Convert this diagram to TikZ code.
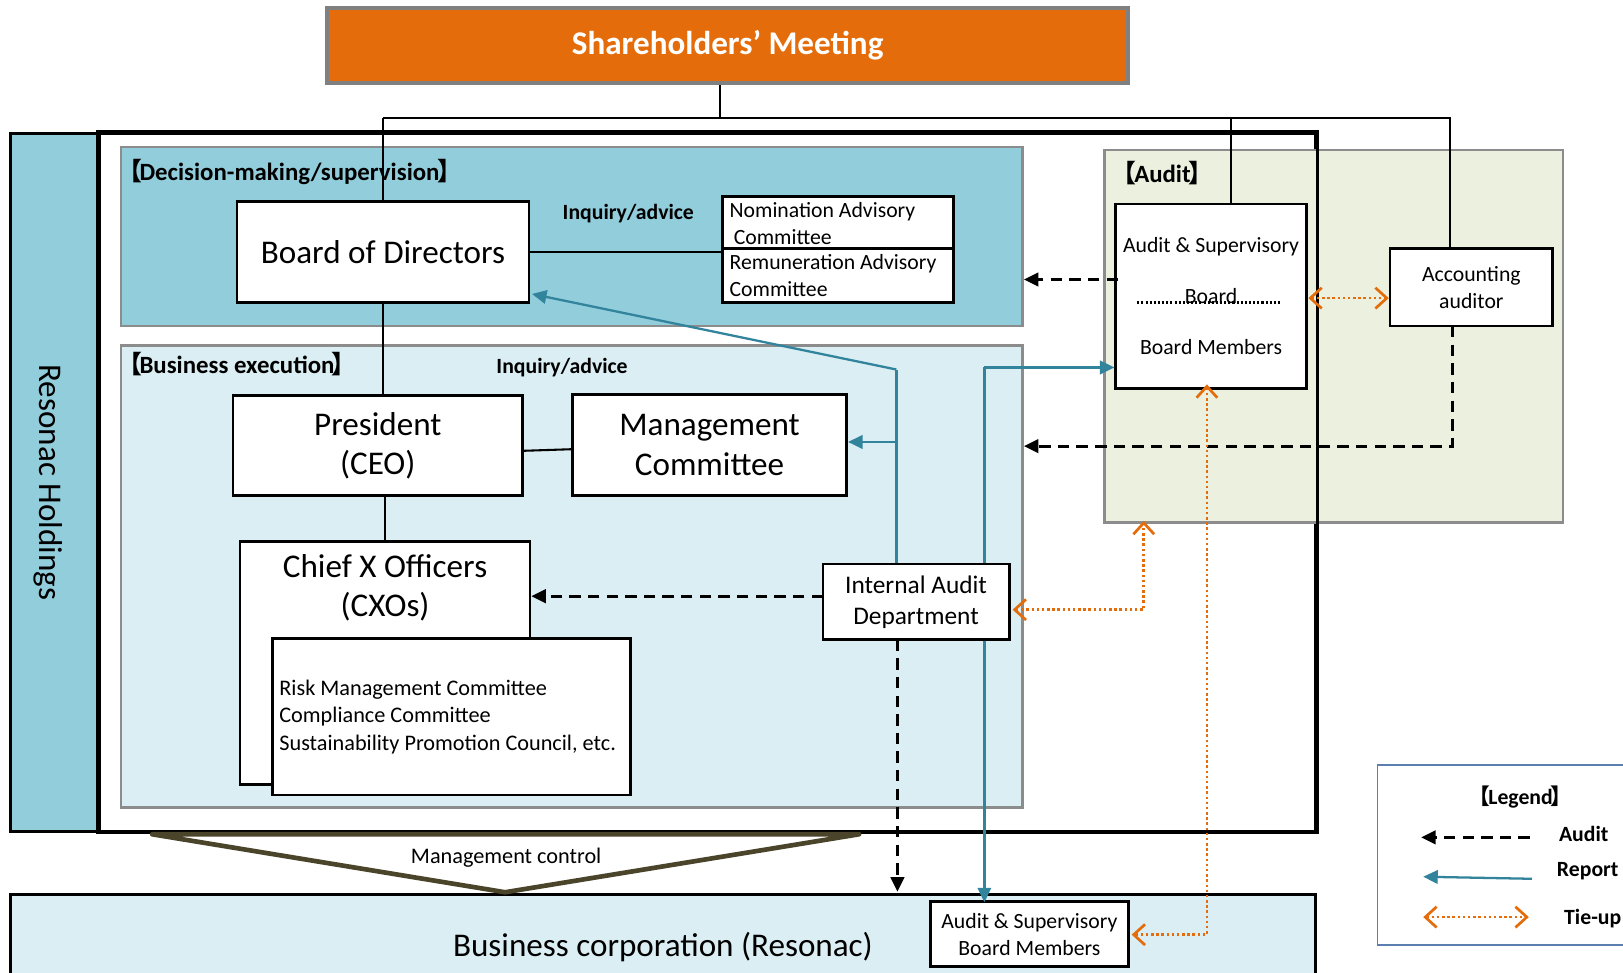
\documentclass[tikz,border=0pt]{standalone}
\usepackage{fontspec}
\setmainfont{Carlito}
\newfontfamily\cjk{Noto Sans CJK SC}
\usetikzlibrary{arrows.meta,calc}
\definecolor{smorange}{HTML}{E46C0A}
\definecolor{smborder}{HTML}{808080}
\definecolor{decblue}{HTML}{92CDDC}
\definecolor{busblue}{HTML}{DAEEF3}
\definecolor{auditgreen}{HTML}{EBF1DE}
\definecolor{panelgray}{HTML}{8C8C8C}
\definecolor{reportteal}{HTML}{31849B}
\definecolor{tieorange}{HTML}{E46C0A}
\definecolor{mcolive}{HTML}{4A452A}
\definecolor{legendblue}{HTML}{5B7FAF}
\newcommand{\fbig}{\fontsize{32}{38}\selectfont}
\newcommand{\fmid}{\fontsize{24.5}{30}\selectfont}
\newcommand{\fsm}{\fontsize{21}{26}\selectfont}
\newcommand{\fcom}{\fontsize{21.5}{26.5}\selectfont}
\newcommand{\fsec}{\fontsize{24}{28}\selectfont}
\newcommand{\lbk}{\hspace*{-0.5em}{\cjk 【}\hspace*{-0.1em}}
\newcommand{\rbk}{\hspace*{-0.1em}{\cjk 】}\hspace*{-0.5em}}
\begin{document}
\begin{tikzpicture}[x=1pt,y=-1pt,
  box/.style={draw=black,line width=2.6pt,fill=white,inner sep=0pt,align=center},
  panel/.style={draw=panelgray,line width=2.4pt,inner sep=0pt},
  lbl/.style={font=\bfseries\fsm,inner sep=0pt},
  seclbl/.style={font=\bfseries\fsec,inner sep=0pt},
  conn/.style={draw=black,line width=2pt},
  audit/.style={draw=black,line width=2.8pt,dash pattern=on 11pt off 7pt,-{Triangle[length=14pt,width=13pt]}},
  report/.style={draw=reportteal,line width=2.2pt,-{Triangle[length=14pt,width=13pt]}},
  reportline/.style={draw=reportteal,line width=2.2pt},
  tie/.style={draw=tieorange,line width=2.6pt,dash pattern=on 2.4pt off 2.6pt,{Straight Barb[length=11pt,width=20pt]}-{Straight Barb[length=11pt,width=20pt]}},
]
\useasboundingbox (0,0) rectangle (1568,940);

% Holdings frame and side bar
\node[box,line width=3pt,minimum width=1175pt,minimum height=674pt] (hold) at (683.5,466) {};
\node[box,line width=3pt,fill=decblue,minimum width=86pt,minimum height=674pt] (side) at (53,466) {};
\node[rotate=-90,font=\fbig,inner sep=0pt] (sidetxt) at (47,466) {Resonac Holdings};

% Panels
\node[panel,fill=decblue,minimum width=871pt,minimum height=173pt] (dec) at (552.5,228.5) {};
\node[panel,fill=busblue,minimum width=871pt,minimum height=446pt] (bus) at (552.5,557) {};
\node[panel,fill=auditgreen,minimum width=443pt,minimum height=360pt] (aud) at (1288.5,325) {};
\draw[line width=3pt] (hold.north west) rectangle (hold.south east);

\node[seclbl,anchor=west] (declbl) at (125,166) {\lbk Decision-making/supervision\rbk};
\node[seclbl,anchor=west] (buslbl) at (125,352) {\lbk Business execution\rbk};
\node[seclbl,anchor=west] (audlbl) at (1086,167) {\lbk Audit\rbk};
\node[lbl] (inq1) at (607,206) {Inquiry/advice};
\node[lbl] (inq2) at (543,355) {Inquiry/advice};

% Top
\node[box,fill=smorange,draw=smborder,line width=3.5pt,minimum width=774pt,minimum height=72pt,text=white,font=\bfseries\fbig] (sm) at (703,44) {Shareholders’ Meeting};

% Business corporation
\node[box,fill=busblue,line width=3pt,minimum width=1261pt,minimum height=102pt,font=\fbig] (bc) at (640.5,915) {Business corporation (Resonac)};

% Boxes
\node[box,minimum width=282pt,minimum height=97pt,font=\fbig] (bod) at (370,243.5) {Board of Directors};
\node[box,minimum width=223pt,minimum height=50pt] (nom) at (809.5,215) {};
\node[box,minimum width=223pt,minimum height=52pt] (rem) at (809.5,266) {};
\node[font=\fsm,align=left,anchor=west,inner sep=0pt] (nomtxt) at ($(nom.west)+(8,1)$) {Nomination Advisory\\\hspace*{4pt}Committee};
\node[font=\fsm,align=left,anchor=west,inner sep=0pt] (remtxt) at ($(rem.west)+(8,0)$) {Remuneration Advisory\\Committee};

\node[box,minimum width=280pt,minimum height=97pt,font=\fbig] (pres) at (365,430.5) {President\\(CEO)};
\node[box,minimum width=265pt,minimum height=98pt,font=\fbig] (mgmt) at (685.5,430) {Management\\Committee};
\node[box,minimum width=280pt,minimum height=235pt] (cxo) at (372,640.5) {};
\node[font=\fbig,align=center,inner sep=0pt] (cxotxt) at (372,568) {Chief X Officers\\(CXOs)};
\node[box,minimum width=346pt,minimum height=151pt] (comm) at (436,692.5) {};
\node[font=\fcom,align=left,anchor=west,inner sep=0pt] (commtxt) at ($(comm.west)+(8,0)$) {Risk Management Committee\\Compliance Committee\\Sustainability Promotion Council, etc.};
\node[box,minimum width=180pt,minimum height=73pt,font=\fmid] (iad) at (885,581.5) {Internal Audit\\Department};

\node[box,minimum width=184pt,minimum height=178pt,font=\fsm] (asb) at (1170,286) {Audit \& Supervisory\\[23pt]Board\\[23pt]Board Members};
\draw[line width=2.5pt,dash pattern=on 2pt off 2pt] ($(asb.west)+(22,6)$) -- ($(asb.east)+(-27,6)$);
\node[box,minimum width=157pt,minimum height=75pt,font=\fsm] (acc) at (1421.5,277.5) {Accounting\\auditor};
\node[box,minimum width=191pt,minimum height=63pt,font=\fsm] (bm) at (994.5,902.5) {Audit \& Supervisory\\Board Members};

% Management control
\coordinate (mcL) at (147,806);
\coordinate (mcR) at (830,806);
\coordinate (mcB) at (488,862);
\draw[mcolive,line width=4.5pt,line join=round] (mcL) -- (mcR) -- (mcB) -- cycle;
\node[font=\fcom] (mctxt) at (489,829) {Management control};

% Solid connectors
\coordinate (busTop) at (696,114);
\coordinate (asbIn) at (1189,197);
\coordinate (accIn) at (1401,240);
\draw[conn] ([xshift=-7pt]sm.south) -- (busTop);
\draw[conn] (bod.north |- busTop) -- (accIn |- busTop) -- (accIn);
\draw[conn] (bod.north |- busTop) -- (bod.north);
\draw[conn] (asbIn |- busTop) -- (asbIn);
\draw[conn] (bod.east) -- (bod.east -| nom.west);
\draw[conn] (bod.south) -- (bod.south |- pres.north);
\draw[conn] ([yshift=-5pt]pres.east) -- ([yshift=-4pt]mgmt.west);
\draw[conn] (pres.south -| cxo.north) -- (cxo.north);

% Report
\coordinate (rx) at (866,357);
\coordinate (rbod) at (514,284);
\coordinate (rm) at (866,427);
\draw[reportline] (iad.north -| rx) -- (rx);
\draw[report] (rx) -- (rbod);
\draw[report] (rm) -- (rm -| mgmt.east);
\coordinate (tx) at (951,355);
\draw[report] (tx) -- (tx -| asb.west);
\draw[reportline] (tx) -- (iad.north -| tx);
\draw[report] (iad.south -| tx) -- ([yshift=-2pt]bm.north -| tx);

% Audit
\coordinate (a1) at (1080,270);
\draw[audit] (a1) -- (dec.east |- a1);
\coordinate (a2) at (1403,315);
\coordinate (a2c) at (1403,431);
\draw[audit] (a2) -- (a2c) -- (bus.east |- a2c);
\coordinate (a3) at (795,576);
\draw[audit] (a3) -- (a3 -| cxo.east);
\coordinate (a4) at (867,618);
\draw[audit] (a4) -- ([yshift=1pt]bc.north -| a4);

% Tie-up
\coordinate (t1) at (1262,288);
\draw[tie] ([xshift=2pt]t1) -- (t1 -| acc.west);
\coordinate (t2) at (1105,589);
\draw[tie] ([xshift=2pt]iad.east |- t2) -| ([yshift=3pt]aud.south -| t2);
\coordinate (t3) at (1166,903);
\draw[tie] ([yshift=5pt]asb.south -| t3) |- ([xshift=2pt]bm.east |- t3);

% Legend
\node[draw=legendblue,line width=1.3pt,fill=white,minimum width=249pt,minimum height=174pt,inner sep=0pt] (lg) at (1455.5,826) {};
\node[lbl] (lgt) at (1469,770) {\lbk Legend\rbk};
\coordinate (la1) at (1478,809); \coordinate (la2) at (1373,809);
\draw[audit] (la1) -- (la2);
\node[lbl,anchor=west] (lat) at (1506,806) {Audit};
\coordinate (lr1) at (1480,849); \coordinate (lr2) at (1375,847);
\draw[report] (lr1) -- (lr2);
\node[lbl,anchor=west] (lrt) at (1504,842) {Report};
\coordinate (lt1) at (1375,886); \coordinate (lt2) at (1477,886);
\draw[tie] (lt1) -- (lt2);
\node[lbl,anchor=west] (ltt) at (1511,887) {Tie-up};
\end{tikzpicture}
\end{document}
